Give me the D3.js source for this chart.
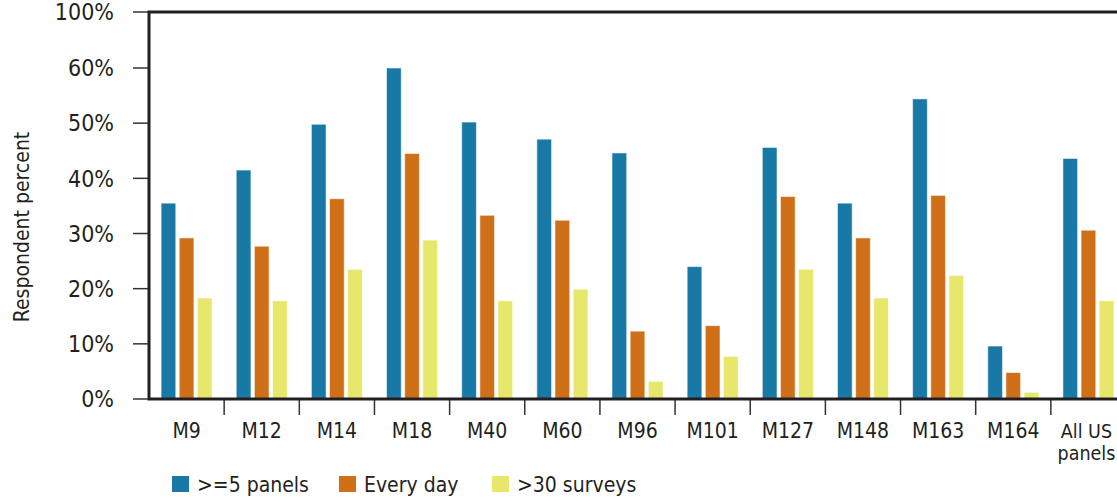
<!DOCTYPE html>
<html>
<head>
<meta charset="utf-8">
<script src="https://cdn.jsdelivr.net/npm/d3@7"></script>
<style>
  body { margin: 0; background: #fff; }
  text { font-family: "DejaVu Sans Condensed", "Liberation Sans Narrow", sans-serif; fill: #231f20; }
</style>
</head>
<body>
<div id="chartContainer"></div>
<script>
var width = 1117,
    height = 500;

var categories = ["M9", "M12", "M14", "M18", "M40", "M60", "M96", "M101", "M127", "M148", "M163", "M164", "All US panels"];
var seriesNames = [">=5 panels", "Every day", ">30 surveys"];
var seriesColors = ["#1878a6", "#cf7018", "#e6e76b"];

var panels5   = [35.5, 41.5, 49.8, 60.0, 50.2, 47.1, 44.6, 24.0, 45.6, 35.5, 54.4, 9.6, 43.6];
var everyDay  = [29.2, 27.7, 36.3, 44.5, 33.3, 32.4, 12.3, 13.3, 36.7, 29.2, 36.9, 4.8, 30.6];
var surveys30 = [18.3, 17.8, 23.5, 28.8, 17.8, 19.9, 3.2, 7.7, 23.5, 18.3, 22.4, 1.2, 17.8];

var yTicks = [0, 10, 20, 30, 40, 50, 60, 100];

function draw() {
    "use strict";

    var series = [panels5, everyDay, surveys30];

    var svg = d3.select("#chartContainer").append("svg")
        .attr("width", width)
        .attr("height", height);

    var left = 149, right = 1126, top = 12, bottom = 399;

    var x = d3.scaleBand()
        .domain(categories)
        .range([left, right]);

    // axis jumps from 60% straight to 100%
    var y = d3.scaleLinear()
        .domain([0, 60, 100])
        .range([bottom, 68, top]);

    var groups = svg.append("g").selectAll("g")
        .data(categories)
        .enter()
        .append("g")
        .attr("transform", function(d) {
            return "translate(" + (x(d) + x.bandwidth() / 2) + ",0)";
        });

    var x1 = d3.scaleBand()
        .domain(d3.range(seriesNames.length))
        .range([-25.5, 25.5])
        .paddingInner(0.19);

    groups.selectAll("rect")
        .data(function(d, i) {
            return series.map(function(s, k) { return { k: k, v: s[i] }; });
        })
        .enter()
        .append("rect")
        .attr("x", function(d) { return x1(d.k); })
        .attr("width", x1.bandwidth())
        .attr("y", function(d) { return y(d.v); })
        .attr("height", function(d) { return bottom - y(d.v); })
        .style("fill", function(d) { return seriesColors[d.k]; })
        .style("stroke", "#fff")
        .style("stroke-opacity", 0.55)
        .style("stroke-width", 1);

    // Y axis ticks and labels
    var yAxis = svg.append("g");
    yAxis.selectAll("line")
        .data(yTicks)
        .enter()
        .append("line")
        .attr("x1", 133)
        .attr("x2", left)
        .attr("y1", function(d) { return y(d); })
        .attr("y2", function(d) { return y(d); })
        .style("stroke", "#333")
        .style("stroke-width", 1.5);

    yAxis.selectAll("text")
        .data(yTicks)
        .enter()
        .append("text")
        .attr("x", 114)
        .attr("y", function(d) { return y(d); })
        .attr("dy", "0.36em")
        .style("text-anchor", "end")
        .style("font-size", "23px")
        .text(function(d) { return d + "%"; });

    // X axis ticks between groups
    svg.append("g").selectAll("line")
        .data(categories.slice(1))
        .enter()
        .append("line")
        .attr("x1", function(d) { return x(d); })
        .attr("x2", function(d) { return x(d); })
        .attr("y1", bottom)
        .attr("y2", 415)
        .style("stroke", "#333")
        .style("stroke-width", 1.5);

    var xLabels = svg.append("g").selectAll("text")
        .data(categories)
        .enter()
        .append("text")
        .attr("x", function(d) { return x(d) + x.bandwidth() / 2; })
        .attr("y", 438)
        .style("text-anchor", "middle")
        .style("font-size", "21px");

    xLabels.each(function(d) {
        var t = d3.select(this);
        if (d === "All US panels") {
            var cx = x(d) + x.bandwidth() / 2 - 2;
            t.style("font-size", "19.5px");
            t.append("tspan").attr("x", cx).text("All US");
            t.append("tspan").attr("x", cx).attr("dy", 22).text("panels");
        } else {
            t.text(d);
        }
    });

    // Frame: left, top and bottom lines
    svg.append("path")
        .attr("d", "M" + right + "," + top + "H" + left + "V" + bottom + "H" + right)
        .style("fill", "none")
        .style("stroke", "#231f20")
        .style("stroke-width", 3);

    // Y axis title
    svg.append("text")
        .attr("transform", "translate(29,227) rotate(-90)")
        .style("text-anchor", "middle")
        .style("font-size", "21px")
        .text("Respondent percent");

    // Legend
    var legendX = [172, 339, 492];
    var legend = svg.append("g").selectAll("g")
        .data(seriesNames)
        .enter()
        .append("g")
        .attr("transform", function(d, i) { return "translate(" + legendX[i] + ",476)"; });

    legend.append("rect")
        .attr("width", 17)
        .attr("height", 16)
        .style("fill", function(d, i) { return seriesColors[i]; });

    legend.append("text")
        .attr("x", 25)
        .attr("y", 16)
        .style("font-size", "21px")
        .text(function(d) { return d; });
}

draw();
</script>
</body>
</html>
